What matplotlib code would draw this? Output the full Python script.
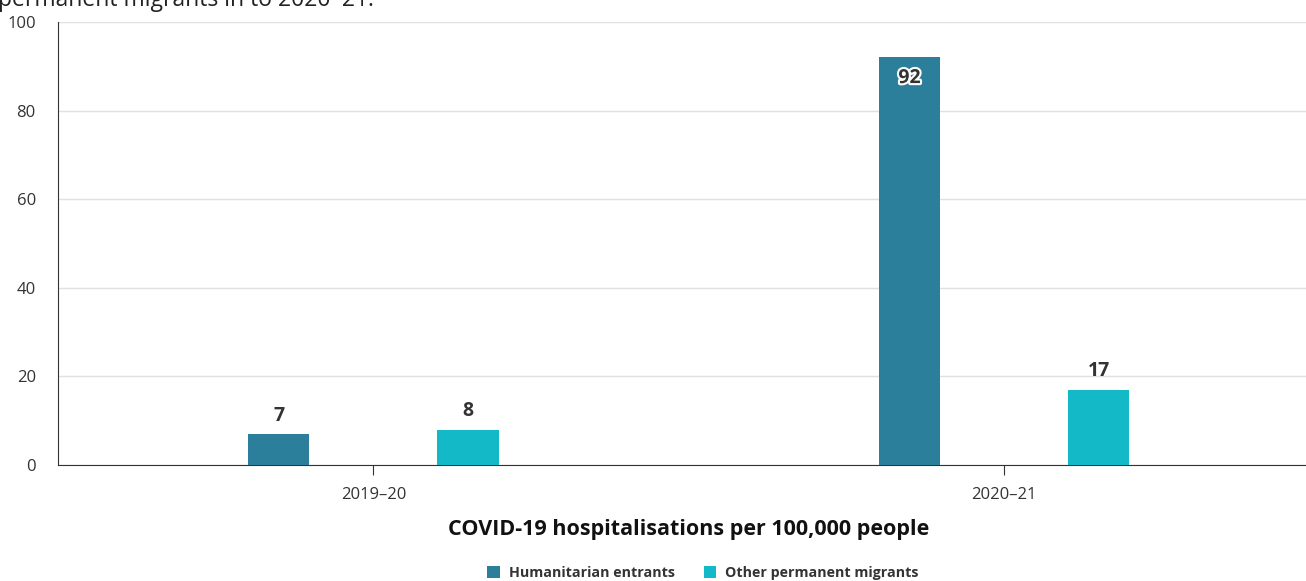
#!/usr/bin/env python3
import numpy as np
import matplotlib.pyplot as plt
import matplotlib.patheffects as pe

plt.rcParams['font.family'] = ['Open Sans', 'DejaVu Sans']

years = ['2019\u201320', '2020\u201321']
humanitarian = [7, 92]
other_perm = [8, 17]
series_names = ['Humanitarian entrants', 'Other permanent migrants']
colours = ['#2c7f9a', '#14b9c7']

fig = plt.figure(figsize=(13.06, 5.81), dpi=100)
ax = fig.add_axes([58 / 1306, 116 / 581, 1261.5 / 1306, 443 / 581])

x = np.arange(len(years))
offset = 0.15
width = 0.097

bars_h = ax.bar(x - offset, humanitarian, width, color=colours[0], label=series_names[0], zorder=3)
bars_o = ax.bar(x + offset, other_perm, width, color=colours[1], label=series_names[1], zorder=3)

# value labels - tall bar gets label inside with white halo
for bars in (bars_h, bars_o):
    for b in bars:
        h = b.get_height()
        cx = b.get_x() + b.get_width() / 2
        if h > 85:
            ax.text(cx, h - 2.4, f'{h:g}', ha='center', va='top', fontsize=14, fontweight='bold',
                    color='#333333', zorder=5,
                    path_effects=[pe.withStroke(linewidth=3, foreground='white')])
        else:
            ax.text(cx, h + 1.9, f'{h:g}', ha='center', va='bottom', fontsize=14, fontweight='bold',
                    color='#333333', zorder=5)

ax.set_xlim(-0.5, 1.5)
ax.set_ylim(0, 100)
ax.set_yticks([0, 20, 40, 60, 80, 100])
ax.set_xticks(x)
ax.set_xticklabels(years)
ax.tick_params(axis='y', length=0, labelsize=12, labelcolor='#333333', pad=16)
ax.tick_params(axis='x', length=7, color='#333333', labelsize=12, labelcolor='#333333', pad=9)
ax.grid(axis='y', color='#e0e0e0', linewidth=1, zorder=0)
for s in ['top', 'right']:
    ax.spines[s].set_visible(False)
ax.spines['left'].set_color('#333333')
ax.spines['bottom'].set_color('#333333')

ax.set_xlabel('COVID-19 hospitalisations per 100,000 people', fontsize=15.5, fontweight='bold',
              color='#111111', labelpad=11)

fig.legend(handles=[bars_h, bars_o], labels=series_names, loc='center', bbox_to_anchor=(703 / 1306, 8 / 581),
           ncol=2, frameon=False, prop={'weight': 'bold', 'size': 10.3},
           handlelength=0.9, handleheight=0.9, columnspacing=2.0, handletextpad=0.6,
           labelcolor='#333333')

# end of the subtitle, cut off at the top edge as in the source image
fig.text(-2 / 1306, 1 - 6 / 581, 'permanent migrants in to 2020\u201321.',
         ha='left', va='baseline', fontsize=16.5, color='#222222')

fig.savefig('out.png', dpi=100)
